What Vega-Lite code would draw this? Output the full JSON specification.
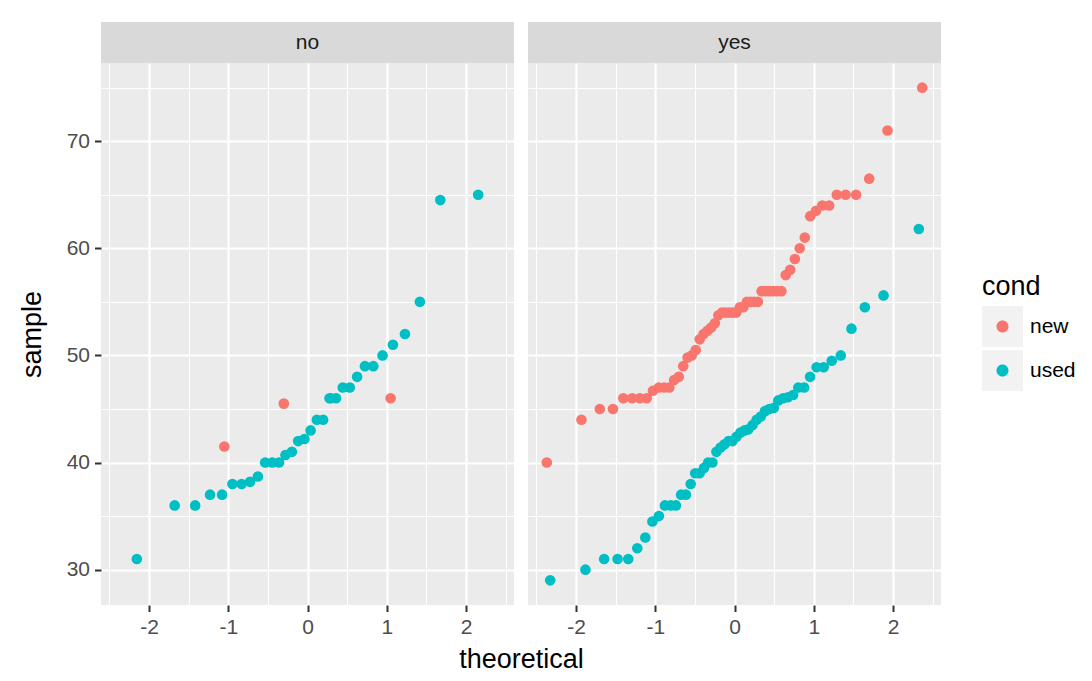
{
  "$schema": "https://vega.github.io/schema/vega-lite/v6.json",
  "padding": {"left": 18, "top": 22, "right": 5, "bottom": 5},
  "background": "white",
  "config": {
    "font": "Liberation Sans",
    "view": {"stroke": null},
    "axis": {
      "domain": false,
      "tickColor": "#333333",
      "tickWidth": 2,
      "tickSize": 6.5,
      "labelColor": "#4D4D4D",
      "labelFontSize": 21,
      "labelPadding": 5,
      "labelFont": "Liberation Sans",
      "titleFont": "Liberation Sans",
      "titleFontSize": 27,
      "titleFontWeight": "normal",
      "titleColor": "black",
      "gridColor": "white",
      "labelFlush": false,
      "labelOverlap": false
    }
  },
  "data": {"values": [
    {"photo":"no","cond":"new","theoretical":-1.049,"sample":41.5},
    {"photo":"no","cond":"new","theoretical":-0.299,"sample":45.5},
    {"photo":"no","cond":"new","theoretical":0.299,"sample":46},
    {"photo":"no","cond":"new","theoretical":1.049,"sample":46},
    {"photo":"no","cond":"used","theoretical":-2.154,"sample":31},
    {"photo":"no","cond":"used","theoretical":-1.676,"sample":36},
    {"photo":"no","cond":"used","theoretical":-1.418,"sample":36},
    {"photo":"no","cond":"used","theoretical":-1.230,"sample":37},
    {"photo":"no","cond":"used","theoretical":-1.078,"sample":37},
    {"photo":"no","cond":"used","theoretical":-0.947,"sample":38},
    {"photo":"no","cond":"used","theoretical":-0.831,"sample":38},
    {"photo":"no","cond":"used","theoretical":-0.725,"sample":38.2},
    {"photo":"no","cond":"used","theoretical":-0.626,"sample":38.7},
    {"photo":"no","cond":"used","theoretical":-0.534,"sample":40},
    {"photo":"no","cond":"used","theoretical":-0.445,"sample":40},
    {"photo":"no","cond":"used","theoretical":-0.360,"sample":40},
    {"photo":"no","cond":"used","theoretical":-0.278,"sample":40.7},
    {"photo":"no","cond":"used","theoretical":-0.197,"sample":41},
    {"photo":"no","cond":"used","theoretical":-0.118,"sample":42},
    {"photo":"no","cond":"used","theoretical":-0.039,"sample":42.2},
    {"photo":"no","cond":"used","theoretical":0.039,"sample":43},
    {"photo":"no","cond":"used","theoretical":0.118,"sample":44},
    {"photo":"no","cond":"used","theoretical":0.197,"sample":44},
    {"photo":"no","cond":"used","theoretical":0.278,"sample":46},
    {"photo":"no","cond":"used","theoretical":0.360,"sample":46},
    {"photo":"no","cond":"used","theoretical":0.445,"sample":47},
    {"photo":"no","cond":"used","theoretical":0.534,"sample":47},
    {"photo":"no","cond":"used","theoretical":0.626,"sample":48},
    {"photo":"no","cond":"used","theoretical":0.725,"sample":49},
    {"photo":"no","cond":"used","theoretical":0.831,"sample":49},
    {"photo":"no","cond":"used","theoretical":0.947,"sample":50},
    {"photo":"no","cond":"used","theoretical":1.078,"sample":51},
    {"photo":"no","cond":"used","theoretical":1.230,"sample":52},
    {"photo":"no","cond":"used","theoretical":1.418,"sample":55},
    {"photo":"no","cond":"used","theoretical":1.676,"sample":64.5},
    {"photo":"no","cond":"used","theoretical":2.154,"sample":65},
    {"photo":"yes","cond":"new","theoretical":-2.369,"sample":40},
    {"photo":"yes","cond":"new","theoretical":-1.931,"sample":44},
    {"photo":"yes","cond":"new","theoretical":-1.700,"sample":45},
    {"photo":"yes","cond":"new","theoretical":-1.534,"sample":45},
    {"photo":"yes","cond":"new","theoretical":-1.403,"sample":46},
    {"photo":"yes","cond":"new","theoretical":-1.291,"sample":46},
    {"photo":"yes","cond":"new","theoretical":-1.195,"sample":46},
    {"photo":"yes","cond":"new","theoretical":-1.108,"sample":46},
    {"photo":"yes","cond":"new","theoretical":-1.029,"sample":46.7},
    {"photo":"yes","cond":"new","theoretical":-0.955,"sample":47},
    {"photo":"yes","cond":"new","theoretical":-0.887,"sample":47},
    {"photo":"yes","cond":"new","theoretical":-0.823,"sample":47},
    {"photo":"yes","cond":"new","theoretical":-0.762,"sample":47.7},
    {"photo":"yes","cond":"new","theoretical":-0.703,"sample":48},
    {"photo":"yes","cond":"new","theoretical":-0.647,"sample":49},
    {"photo":"yes","cond":"new","theoretical":-0.592,"sample":49.8},
    {"photo":"yes","cond":"new","theoretical":-0.540,"sample":50},
    {"photo":"yes","cond":"new","theoretical":-0.489,"sample":50.5},
    {"photo":"yes","cond":"new","theoretical":-0.439,"sample":51.5},
    {"photo":"yes","cond":"new","theoretical":-0.390,"sample":52},
    {"photo":"yes","cond":"new","theoretical":-0.342,"sample":52.3},
    {"photo":"yes","cond":"new","theoretical":-0.295,"sample":52.6},
    {"photo":"yes","cond":"new","theoretical":-0.248,"sample":53},
    {"photo":"yes","cond":"new","theoretical":-0.203,"sample":53.75},
    {"photo":"yes","cond":"new","theoretical":-0.157,"sample":54},
    {"photo":"yes","cond":"new","theoretical":-0.112,"sample":54},
    {"photo":"yes","cond":"new","theoretical":-0.067,"sample":54},
    {"photo":"yes","cond":"new","theoretical":-0.022,"sample":54},
    {"photo":"yes","cond":"new","theoretical":0.022,"sample":54},
    {"photo":"yes","cond":"new","theoretical":0.067,"sample":54.5},
    {"photo":"yes","cond":"new","theoretical":0.112,"sample":54.5},
    {"photo":"yes","cond":"new","theoretical":0.157,"sample":55},
    {"photo":"yes","cond":"new","theoretical":0.203,"sample":55},
    {"photo":"yes","cond":"new","theoretical":0.248,"sample":55},
    {"photo":"yes","cond":"new","theoretical":0.295,"sample":55},
    {"photo":"yes","cond":"new","theoretical":0.342,"sample":56},
    {"photo":"yes","cond":"new","theoretical":0.390,"sample":56},
    {"photo":"yes","cond":"new","theoretical":0.439,"sample":56},
    {"photo":"yes","cond":"new","theoretical":0.489,"sample":56},
    {"photo":"yes","cond":"new","theoretical":0.540,"sample":56},
    {"photo":"yes","cond":"new","theoretical":0.592,"sample":56},
    {"photo":"yes","cond":"new","theoretical":0.647,"sample":57.5},
    {"photo":"yes","cond":"new","theoretical":0.703,"sample":58},
    {"photo":"yes","cond":"new","theoretical":0.762,"sample":59},
    {"photo":"yes","cond":"new","theoretical":0.823,"sample":60},
    {"photo":"yes","cond":"new","theoretical":0.887,"sample":61},
    {"photo":"yes","cond":"new","theoretical":0.955,"sample":63},
    {"photo":"yes","cond":"new","theoretical":1.029,"sample":63.5},
    {"photo":"yes","cond":"new","theoretical":1.108,"sample":64},
    {"photo":"yes","cond":"new","theoretical":1.195,"sample":64},
    {"photo":"yes","cond":"new","theoretical":1.291,"sample":65},
    {"photo":"yes","cond":"new","theoretical":1.403,"sample":65},
    {"photo":"yes","cond":"new","theoretical":1.534,"sample":65},
    {"photo":"yes","cond":"new","theoretical":1.700,"sample":66.5},
    {"photo":"yes","cond":"new","theoretical":1.931,"sample":71},
    {"photo":"yes","cond":"new","theoretical":2.369,"sample":75},
    {"photo":"yes","cond":"used","theoretical":-2.326,"sample":29},
    {"photo":"yes","cond":"used","theoretical":-1.881,"sample":30},
    {"photo":"yes","cond":"used","theoretical":-1.645,"sample":31},
    {"photo":"yes","cond":"used","theoretical":-1.476,"sample":31},
    {"photo":"yes","cond":"used","theoretical":-1.341,"sample":31},
    {"photo":"yes","cond":"used","theoretical":-1.227,"sample":32},
    {"photo":"yes","cond":"used","theoretical":-1.126,"sample":33},
    {"photo":"yes","cond":"used","theoretical":-1.036,"sample":34.5},
    {"photo":"yes","cond":"used","theoretical":-0.954,"sample":35},
    {"photo":"yes","cond":"used","theoretical":-0.878,"sample":36},
    {"photo":"yes","cond":"used","theoretical":-0.806,"sample":36},
    {"photo":"yes","cond":"used","theoretical":-0.739,"sample":36},
    {"photo":"yes","cond":"used","theoretical":-0.674,"sample":37},
    {"photo":"yes","cond":"used","theoretical":-0.613,"sample":37},
    {"photo":"yes","cond":"used","theoretical":-0.553,"sample":38},
    {"photo":"yes","cond":"used","theoretical":-0.496,"sample":39},
    {"photo":"yes","cond":"used","theoretical":-0.440,"sample":39},
    {"photo":"yes","cond":"used","theoretical":-0.385,"sample":39.5},
    {"photo":"yes","cond":"used","theoretical":-0.332,"sample":40},
    {"photo":"yes","cond":"used","theoretical":-0.279,"sample":40},
    {"photo":"yes","cond":"used","theoretical":-0.228,"sample":41},
    {"photo":"yes","cond":"used","theoretical":-0.176,"sample":41.4},
    {"photo":"yes","cond":"used","theoretical":-0.126,"sample":41.7},
    {"photo":"yes","cond":"used","theoretical":-0.075,"sample":42},
    {"photo":"yes","cond":"used","theoretical":-0.025,"sample":42},
    {"photo":"yes","cond":"used","theoretical":0.025,"sample":42.4},
    {"photo":"yes","cond":"used","theoretical":0.075,"sample":42.8},
    {"photo":"yes","cond":"used","theoretical":0.126,"sample":43},
    {"photo":"yes","cond":"used","theoretical":0.176,"sample":43.1},
    {"photo":"yes","cond":"used","theoretical":0.228,"sample":43.5},
    {"photo":"yes","cond":"used","theoretical":0.279,"sample":44},
    {"photo":"yes","cond":"used","theoretical":0.332,"sample":44.3},
    {"photo":"yes","cond":"used","theoretical":0.385,"sample":44.8},
    {"photo":"yes","cond":"used","theoretical":0.440,"sample":45},
    {"photo":"yes","cond":"used","theoretical":0.496,"sample":45.1},
    {"photo":"yes","cond":"used","theoretical":0.553,"sample":45.8},
    {"photo":"yes","cond":"used","theoretical":0.613,"sample":46},
    {"photo":"yes","cond":"used","theoretical":0.674,"sample":46.1},
    {"photo":"yes","cond":"used","theoretical":0.739,"sample":46.3},
    {"photo":"yes","cond":"used","theoretical":0.806,"sample":47},
    {"photo":"yes","cond":"used","theoretical":0.878,"sample":47},
    {"photo":"yes","cond":"used","theoretical":0.954,"sample":48},
    {"photo":"yes","cond":"used","theoretical":1.036,"sample":48.9},
    {"photo":"yes","cond":"used","theoretical":1.126,"sample":48.9},
    {"photo":"yes","cond":"used","theoretical":1.227,"sample":49.5},
    {"photo":"yes","cond":"used","theoretical":1.341,"sample":50},
    {"photo":"yes","cond":"used","theoretical":1.476,"sample":52.5},
    {"photo":"yes","cond":"used","theoretical":1.645,"sample":54.5},
    {"photo":"yes","cond":"used","theoretical":1.881,"sample":55.6},
    {"photo":"yes","cond":"used","theoretical":2.326,"sample":61.8}
  ]},
  "columns": 2,
  "spacing": {"row": 0, "column": 14},
  "bounds": "flush",
  "resolve": {"scale": {"color": "shared"}, "legend": {"color": "shared"}},
  "concat": [
    {
      "width": 413, "height": 41,
      "view": {"fill": "#D9D9D9", "stroke": null},
      "data": {"values": [{"label": "no"}]},
      "mark": {"type": "text", "fontSize": 21, "color": "#1A1A1A", "font": "Liberation Sans"},
      "encoding": {"text": {"field": "label", "type": "nominal"}}
    },
    {
      "width": 413, "height": 41,
      "view": {"fill": "#D9D9D9", "stroke": null},
      "data": {"values": [{"label": "yes"}]},
      "mark": {"type": "text", "fontSize": 21, "color": "#1A1A1A", "font": "Liberation Sans"},
      "encoding": {"text": {"field": "label", "type": "nominal"}}
    },
    {
      "width": 413, "height": 542,
      "view": {"fill": "#EBEBEB", "stroke": null},
      "layer": [
        {
          "data": {"values": [{"key": "key1"}, {"key": "key2"}]},
          "mark": {"type": "point", "filled": true, "shape": "square", "opacity": 0},
          "encoding": {
            "fill": {"field": "key", "type": "nominal",
              "scale": {"domain": ["key1", "key2"], "range": ["#F2F2F2", "#F2F2F2"]},
              "legend": {
                "orient": "none", "legendX": 881, "legendY": 284, "zindex": 0,
                "title": null,
                "labelExpr": "''", "labelFontSize": 21, "labelOffset": 7, "labelOpacity": 0,
                "symbolType": "square", "symbolSize": 1681, "symbolStrokeWidth": 0, "symbolOpacity": 1, "symbolFillColor": "#F2F2F2", "rowPadding": 3
              }}
          }
        },
        {
          "transform": [{"filter": "datum.photo === 'no'"}],
          "mark": {"type": "point", "filled": true, "size": 113, "opacity": 1},
          "encoding": {
            "x": {"field": "theoretical", "type": "quantitative",
              "scale": {"domain": [-2.606, 2.606], "nice": false, "zero": false},
              "axis": {
                "values": [-2.5, -2, -1.5, -1, -0.5, 0, 0.5, 1, 1.5, 2, 2.5],
                "labelExpr": "datum.value % 1 === 0 ? '' + datum.value : ''",
                "gridWidth": {"condition": {"test": "datum.value % 1 === 0", "value": 2.2}, "value": 1.1},
                "tickOpacity": {"condition": {"test": "datum.value % 1 === 0", "value": 1}, "value": 0},
                "title": "theoretical", "titleX": 420, "titlePadding": 9
              }},
            "y": {"field": "sample", "type": "quantitative",
              "scale": {"domain": [26.7, 77.3], "nice": false, "zero": false},
              "axis": {
                "values": [30, 35, 40, 45, 50, 55, 60, 65, 70, 75],
                "labelExpr": "datum.value % 10 === 0 ? '' + datum.value : ''",
                "gridWidth": {"condition": {"test": "datum.value % 10 === 0", "value": 2.2}, "value": 1.1},
                "tickOpacity": {"condition": {"test": "datum.value % 10 === 0", "value": 1}, "value": 0},
                "title": "sample", "titlePadding": 20
              }},
            "color": {"field": "cond", "type": "nominal",
              "scale": {"domain": ["new", "used"], "range": ["#F8766D", "#00BFC4"]},
              "legend": {
                "orient": "none", "legendX": 881, "legendY": 252, "zindex": 1,
                "title": "cond", "titleFontSize": 27, "titleFontWeight": "normal", "titleColor": "black", "titleFont": "Liberation Sans", "titlePadding": 5,
                "labelFontSize": 21, "labelColor": "black", "labelFont": "Liberation Sans", "labelOffset": 7,
                "symbolType": "M -1 -1 L 1 1 M 0.293 0 A 0.293 0.293 0 1 1 -0.293 0 A 0.293 0.293 0 1 1 0.293 0 Z",
                "symbolSize": 1681, "symbolStrokeWidth": 0, "symbolOpacity": 1, "rowPadding": 3
              }}
          }
        }
      ]
    },
    {
      "width": 413, "height": 542,
      "view": {"fill": "#EBEBEB", "stroke": null},
      "transform": [{"filter": "datum.photo === 'yes'"}],
      "mark": {"type": "point", "filled": true, "size": 113, "opacity": 1},
      "encoding": {
        "x": {"field": "theoretical", "type": "quantitative",
          "scale": {"domain": [-2.606, 2.606], "nice": false, "zero": false},
          "axis": {
            "values": [-2.5, -2, -1.5, -1, -0.5, 0, 0.5, 1, 1.5, 2, 2.5],
            "labelExpr": "datum.value % 1 === 0 ? '' + datum.value : ''",
            "gridWidth": {"condition": {"test": "datum.value % 1 === 0", "value": 2.2}, "value": 1.1},
            "tickOpacity": {"condition": {"test": "datum.value % 1 === 0", "value": 1}, "value": 0},
            "title": null
          }},
        "y": {"field": "sample", "type": "quantitative",
          "scale": {"domain": [26.7, 77.3], "nice": false, "zero": false},
          "axis": {
            "values": [30, 35, 40, 45, 50, 55, 60, 65, 70, 75],
            "labels": false, "ticks": false,
            "gridWidth": {"condition": {"test": "datum.value % 10 === 0", "value": 2.2}, "value": 1.1},
            "title": null
          }},
        "color": {"field": "cond", "type": "nominal",
          "scale": {"domain": ["new", "used"], "range": ["#F8766D", "#00BFC4"]},
          "legend": {
            "orient": "none", "legendX": 881, "legendY": 252, "zindex": 1,
            "title": "cond", "titleFontSize": 27, "titleFontWeight": "normal", "titleColor": "black", "titleFont": "Liberation Sans", "titlePadding": 5,
            "labelFontSize": 21, "labelColor": "black", "labelFont": "Liberation Sans", "labelOffset": 7,
            "symbolType": "M -1 -1 L 1 1 M 0.293 0 A 0.293 0.293 0 1 1 -0.293 0 A 0.293 0.293 0 1 1 0.293 0 Z",
            "symbolSize": 1681, "symbolStrokeWidth": 0, "symbolOpacity": 1, "rowPadding": 3
          }}
      }
    }
  ]
}
